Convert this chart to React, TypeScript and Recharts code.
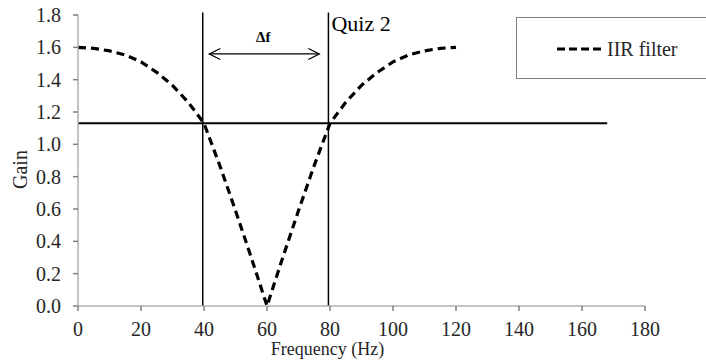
import React from 'react';
import { LineChart, Line, XAxis, YAxis, ReferenceLine, Legend, Label } from 'recharts';

const frequencies = [0, 5, 10, 15, 20, 25, 30, 35, 40, 45, 50, 55, 60, 65, 70, 75, 80, 85, 90, 95, 100, 105, 110, 115, 120];
const gains = [1.6, 1.594, 1.578, 1.553, 1.51, 1.445, 1.365, 1.26, 1.13, 0.87, 0.59, 0.3, 0.0, 0.3, 0.59, 0.87, 1.13, 1.26, 1.365, 1.445, 1.51, 1.553, 1.578, 1.594, 1.6];
const xTicks = [0, 20, 40, 60, 80, 100, 120, 140, 160, 180];
const yTicks = [0, 0.2, 0.4, 0.6, 0.8, 1.0, 1.2, 1.4, 1.6, 1.8];
const cutoffGain = 1.13;
const cutoffLineEnd = 168;
const lowerCutoff = 39.6;
const upperCutoff = 79.5;
const cutoffTop = 1.815;
const arrowGain = 1.559;
const arrowStart = 41.7;
const arrowEnd = 76.6;
const seriesName = 'IIR filter';
const quizLabel = 'Quiz 2';
const deltaLabel = 'Δf';

const data = frequencies.map((f, i) => ({ f, gain: gains[i] }));

const FONT = '"Liberation Serif", "Times New Roman", serif';
const TEXT = '#262626';

const ArrowShape = (props: any) => {
  const { x1, y1, x2, y2 } = props;
  const h = 5.5;
  const w = 11;
  return (
    <g>
      <line x1={x1} y1={y1} x2={x2} y2={y2} stroke="#000" strokeWidth={1.3} />
      <path d={`M${x1 + w},${y1 - h} L${x1},${y1} L${x1 + w},${y1 + h}`} fill="none" stroke="#000" strokeWidth={1.3} />
      <path d={`M${x2 - w},${y2 - h} L${x2},${y2} L${x2 - w},${y2 + h}`} fill="none" stroke="#000" strokeWidth={1.3} />
      <text x={(x1 + x2) / 2 - 1} y={y1 - 12} textAnchor="middle" fontFamily={FONT} fontSize={15} fontWeight="bold" fill="#000">{deltaLabel}</text>
    </g>
  );
};

const QuizLineShape = (props: any) => {
  const { x1, y1, x2, y2 } = props;
  const top = Math.min(y1, y2);
  return (
    <g>
      <line x1={x1} y1={y1} x2={x2} y2={y2} stroke="#000" strokeWidth={1.5} />
      <text x={x1 + 3} y={top + 18} fontFamily={FONT} fontSize={22} fill="#000">{quizLabel}</text>
    </g>
  );
};

const LegendContent = () => (
  <div style={{ width: 200, height: 62, border: '1px solid #7f7f7f', boxSizing: 'border-box', background: '#fff', position: 'absolute', left: 0, top: 0 }}>
    <svg width={200} height={60} style={{ position: 'absolute', left: 0, top: 0 }}>
      <line x1={40} y1={31} x2={86} y2={31} stroke="#000" strokeWidth={3} strokeDasharray="8 4" />
      <text x={90} y={38} fontFamily={FONT} fontSize={20} fill={TEXT}>{seriesName}</text>
    </svg>
  </div>
);

export default function App() {
  return (
    <div style={{ position: 'absolute', left: 0, top: 0, width: 706, height: 362, background: '#fff', overflow: 'hidden' }}>
      <LineChart width={706} height={362} data={data} margin={{ top: 15, right: 61, bottom: 0, left: 0 }}>
        <XAxis
          dataKey="f"
          type="number"
          domain={[0, 180]}
          ticks={xTicks}
          interval={0}
          height={56}
          tickSize={5}
          tickMargin={11}
          stroke="#b0b0b0"
          strokeWidth={1.5}
          tick={{ fontFamily: FONT, fontSize: 20, fill: TEXT }}
          tickLine={{ stroke: '#808080' }}
        >
          <Label
            content={(p: any) => {
              const vb = p.viewBox;
              return (
                <text x={vb.x + vb.width / 2 - 34} y={355} textAnchor="middle" fontFamily={FONT} fontSize={18} fill={TEXT}>
                  Frequency (Hz)
                </text>
              );
            }}
          />
        </XAxis>
        <YAxis
          type="number"
          domain={[0, 1.8]}
          ticks={yTicks}
          interval={0}
          width={78}
          tickSize={5}
          tickMargin={12}
          stroke="#b0b0b0"
          strokeWidth={1.5}
          tickFormatter={(v: number) => v.toFixed(1)}
          tick={{ fontFamily: FONT, fontSize: 20, fill: TEXT }}
          tickLine={{ stroke: '#808080' }}
        >
          <Label
            content={(p: any) => {
              const vb = p.viewBox;
              const cy = vb.y + vb.height / 2 + 9;
              return (
                <text x={27} y={cy} transform={`rotate(-90 27 ${cy})`} textAnchor="middle" fontFamily={FONT} fontSize={20} fill={TEXT}>
                  Gain
                </text>
              );
            }}
          />
        </YAxis>
        <ReferenceLine
          segment={[{ x: 0, y: cutoffGain }, { x: cutoffLineEnd, y: cutoffGain }]}
          stroke="#000"
          strokeWidth={2}
          ifOverflow="visible"
        />
        <ReferenceLine
          segment={[{ x: lowerCutoff, y: 0 }, { x: lowerCutoff, y: cutoffTop }]}
          stroke="#000"
          strokeWidth={1.5}
          ifOverflow="visible"
        />
        <ReferenceLine
          segment={[{ x: upperCutoff, y: 0 }, { x: upperCutoff, y: cutoffTop }]}
          ifOverflow="visible"
          shape={QuizLineShape}
        />
        <ReferenceLine
          segment={[{ x: arrowStart, y: arrowGain }, { x: arrowEnd, y: arrowGain }]}
          ifOverflow="visible"
          shape={ArrowShape}
        />
        <Line
          dataKey="gain"
          name={seriesName}
          type="linear"
          stroke="#000"
          strokeWidth={3.2}
          strokeDasharray="8 5"
          dot={false}
          activeDot={false}
          isAnimationActive={false}
        />
        <Legend
          content={<LegendContent />}
          wrapperStyle={{ position: 'absolute', left: 516, top: 17, width: 0, height: 0, overflow: 'visible' }}
        />
      </LineChart>
    </div>
  );
}
